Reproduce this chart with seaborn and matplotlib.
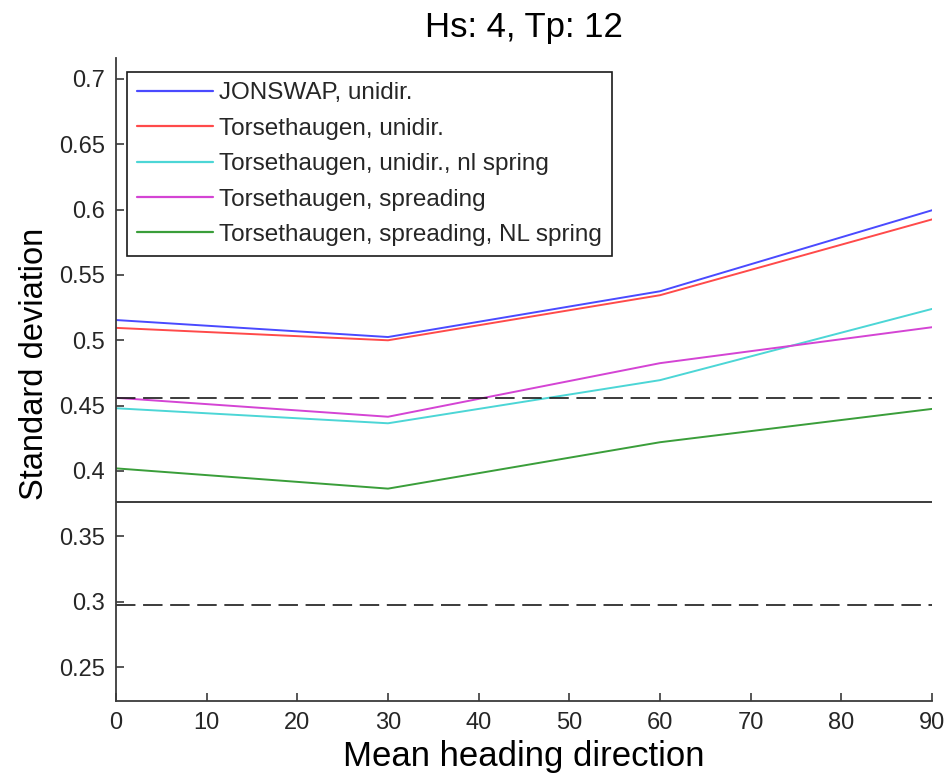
import numpy as np
import pandas as pd
import seaborn as sns
import matplotlib
matplotlib.use("Agg")
import matplotlib.pyplot as plt

# Mean heading direction (deg) and standard deviation per spectrum model
heading = [0, 30, 60, 90]
jonswap_unidir = [0.5155, 0.5025, 0.5375, 0.5995]
torset_unidir = [0.5095, 0.5000, 0.5345, 0.5925]
torset_unidir_nl = [0.4480, 0.4365, 0.4695, 0.5240]
torset_spreading = [0.4560, 0.4415, 0.4825, 0.5100]
torset_spreading_nl = [0.4020, 0.3865, 0.4220, 0.4475]

series_names = [
    "JONSWAP, unidir.",
    "Torsethaugen, unidir.",
    "Torsethaugen, unidir., nl spring",
    "Torsethaugen, spreading",
    "Torsethaugen, spreading, NL spring",
]
series_values = [jonswap_unidir, torset_unidir, torset_unidir_nl,
                 torset_spreading, torset_spreading_nl]
series_colors = ["#4a4aff", "#ff4a4a", "#4cd6d6", "#d444d4", "#3a9e3a"]

# Reference levels: mean and +/- band
ref_mean = 0.3765
ref_upper = 0.4562
ref_lower = 0.2972

x_ticks = [0, 10, 20, 30, 40, 50, 60, 70, 80, 90]
y_ticks = [0.25, 0.3, 0.35, 0.4, 0.45, 0.5, 0.55, 0.6, 0.65, 0.7]
y_tick_labels = ["0.25", "0.3", "0.35", "0.4", "0.45", "0.5", "0.55", "0.6", "0.65", "0.7"]

df = pd.DataFrame({
    "heading": np.tile(heading, len(series_names)),
    "std": np.concatenate(series_values),
    "model": np.repeat(series_names, len(heading)),
})

sns.set_style("white")
plt.rcParams["font.family"] = ["Liberation Sans", "DejaVu Sans"]
plt.rcParams["lines.scale_dashes"] = False

fig = plt.figure(figsize=(9.44, 7.79), dpi=100)
ax = fig.add_axes([116 / 944, 78 / 779, 816 / 944, 643 / 779])

sns.lineplot(data=df, x="heading", y="std", hue="model", hue_order=series_names,
             palette=series_colors, linewidth=1.4, ax=ax, legend=True)

ax.axhline(ref_upper, color="#1a1a1a", linewidth=1.2, dashes=(14, 5.5))
ax.axhline(ref_mean, color="#1a1a1a", linewidth=1.2)
ax.axhline(ref_lower, color="#1a1a1a", linewidth=1.2, dashes=(14, 5.5))

ax.set_xlim(0, 90)
ax.set_ylim(0.224, 0.716)
ax.set_xticks(x_ticks)
ax.set_xticklabels([str(v) for v in x_ticks])
ax.set_yticks(y_ticks)
ax.set_yticklabels(y_tick_labels)

for side in ("top", "right"):
    ax.spines[side].set_visible(False)
for side in ("left", "bottom"):
    ax.spines[side].set_color("#3a3a3a")
    ax.spines[side].set_linewidth(1.3)

ax.tick_params(axis="both", direction="in", length=6, width=1.2, color="#3a3a3a",
               labelsize=17, labelcolor="#262626", left=True, bottom=True)
ax.tick_params(axis="y", pad=8)
ax.tick_params(axis="x", pad=8)

ax.set_xlabel("Mean heading direction", fontsize=25, color="black", labelpad=4)
ax.set_ylabel("Standard deviation", fontsize=23.5, color="black")
ax.yaxis.set_label_coords(-0.081, 0.524)
ax.set_title("Hs: 4, Tp: 12", fontsize=25, color="black", pad=15)

leg = ax.legend(loc="upper left", bbox_to_anchor=(0.0135, 0.978), borderaxespad=0,
                fontsize=17.5, frameon=True, fancybox=False, framealpha=1,
                edgecolor="#1a1a1a", handlelength=3.1, handletextpad=0.25,
                labelspacing=0.55, borderpad=0.42, title=None)
leg.get_frame().set_linewidth(1.2)
for line in leg.get_lines():
    line.set_linewidth(1.6)

fig.savefig("out.png", dpi=100)
